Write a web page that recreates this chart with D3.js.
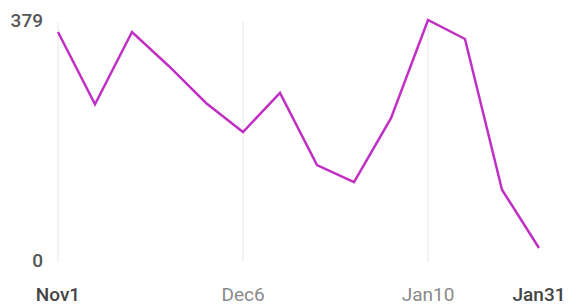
<!DOCTYPE html>
<html>
<head>
<meta charset="utf-8">
<script src="https://cdn.jsdelivr.net/npm/d3@7"></script>
<style>
  body { margin: 0; background: #fff; }
  svg { display: block; font-family: Roboto, sans-serif; }
</style>
</head>
<body>
<div id="chart"></div>
<script>
// data ========================================================================
var dates = ["2019-11-01", "2019-11-08", "2019-11-15", "2019-11-22", "2019-11-29",
             "2019-12-06", "2019-12-13", "2019-12-20", "2019-12-27", "2020-01-03",
             "2020-01-10", "2020-01-17", "2020-01-24", "2020-01-31"];
var values = [360, 246, 360, 306, 248, 202, 264, 150, 123, 224, 379, 349, 111, 19];
var tickDates = ["2019-11-01", "2019-12-06", "2020-01-10", "2020-01-31"];
var tickLabels = ["Nov1", "Dec6", "Jan10", "Jan31"];
var yTicks = [0, 379];

var parse = d3.timeParse("%Y-%m-%d");
var _data = dates.map(function (d, i) { return { x: parse(d), y: values[i] }; });

// sizes =======================================================================
var width = 568, height = 307;
var _margin = { top: 20, right: 29, bottom: 47, left: 58 };

var _svg = d3.select("#chart").append("svg")
    .attr("width", width)
    .attr("height", height);

var x = d3.scaleTime()
    .domain([parse(dates[0]), parse(dates[dates.length - 1])])
    .range([_margin.left, width - _margin.right]);

var y = d3.scaleLinear()
    .domain([0, 379])
    .range([height - _margin.bottom, _margin.top]);

// vertical gridlines (all but the last tick)
_svg.append("g")
    .selectAll("line")
    .data(tickDates.slice(0, 3))
    .enter().append("line")
    .attr("x1", function (d) { return x(parse(d)); })
    .attr("x2", function (d) { return x(parse(d)); })
    .attr("y1", y(379) + 2)
    .attr("y2", y(0) + 2)
    .attr("stroke", "#ebebeb")
    .attr("stroke-width", 1.2);

// y labels
_svg.append("g")
    .selectAll("text")
    .data(yTicks)
    .enter().append("text")
    .attr("x", 43)
    .attr("y", function (d) { return y(d); })
    .attr("dy", "0.36em")
    .attr("text-anchor", "end")
    .attr("font-size", 19)
    .attr("font-weight", 500)
    .attr("fill", "#555")
    .text(function (d) { return d; });

// x labels
_svg.append("g")
    .selectAll("text")
    .data(tickDates)
    .enter().append("text")
    .attr("x", function (d) { return x(parse(d)); })
    .attr("y", 301)
    .attr("text-anchor", "middle")
    .attr("font-size", 19)
    .attr("font-weight", function (d, i) { return (i == 0 || i == 3) ? 500 : 400; })
    .attr("fill", function (d, i) { return (i == 0 || i == 3) ? "#444" : "#8a8a8a"; })
    .text(function (d, i) { return tickLabels[i]; });

// line
var line = d3.line()
    .x(function (d) { return x(d.x); })
    .y(function (d) { return y(d.y); });

_svg.append("path")
    .datum(_data)
    .attr("fill", "none")
    .attr("stroke", "#c030c4")
    .attr("stroke-width", 2.5)
    .attr("d", line);
</script>
</body>
</html>
